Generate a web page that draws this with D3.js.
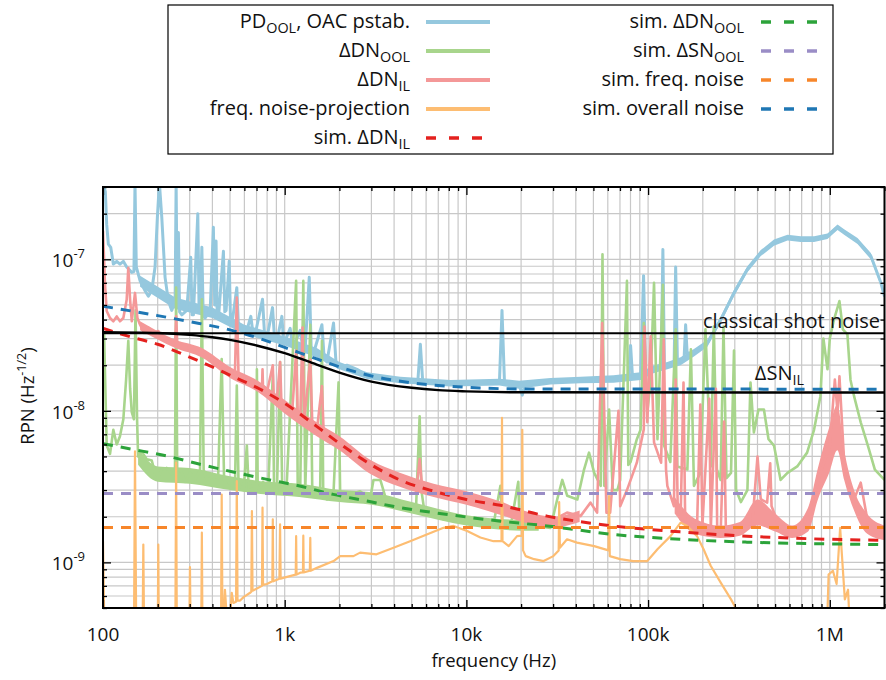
<!DOCTYPE html>
<html><head><meta charset="utf-8">
<script src="https://cdn.jsdelivr.net/npm/d3@7"></script>
<style>
body{margin:0;background:#fff}
svg{display:block}
text{font-family:'Open Sans',sans-serif;fill:#111}
</style></head>
<body><svg id="c" width="886" height="680"></svg>
<script>
// ---------------- DATA ----------------
const freqTicks = [100, 1e3, 1e4, 1e5, 1e6];
const freqTickLabels = ["100", "1k", "10k", "100k", "1M"];
const rpnTicks = [1e-9, 1e-8, 1e-7];
const rpnTickExponents = ["-9", "-8", "-7"];

const classicalShotNoise = 3.25e-8;
const simSNOOLLevel = 2.85e-9;
const simFreqNoiseLevel = 1.7e-9;

const snIL = [[100,3.3e-8],[200,3.26e-8],[300,3.17e-8],[400,3.06e-8],[500,2.94e-8],[700,2.7e-8],[1000,2.4e-8],[1500,2.02e-8],[2000,1.79e-8],[3000,1.56e-8],[5000,1.42e-8],[7000,1.37e-8],[10000,1.345e-8],[20000,1.325e-8],[2e6,1.32e-8]];

const simOverall = [[100,4.9e-8],[200,4.25e-8],[300,3.88e-8],[500,3.42e-8],[700,3.05e-8],[1000,2.62e-8],[1500,2.2e-8],[2000,1.95e-8],[3000,1.7e-8],[5000,1.53e-8],[10000,1.43e-8],[20000,1.395e-8],[2e6,1.39e-8]];

const simDNIL = [[100,3.5e-8],[146,3.05e-8],[200,2.75e-8],[276,2.36e-8],[388,1.98e-8],[520,1.68e-8],[700,1.43e-8],[1000,1.12e-8],[1500,7.9e-9],[2000,6.1e-9],[3000,4.4e-9],[4300,3.5e-9],[6600,2.95e-9],[10000,2.6e-9],[15400,2.38e-9],[27800,2.02e-9],[64000,1.74e-9],[150000,1.59e-9],[350000,1.49e-9],[810000,1.43e-9],[2e6,1.4e-9]];

const simDNOOL = [[100,6.07e-9],[146,5.57e-9],[225,5.03e-9],[342,4.44e-9],[520,3.95e-9],[800,3.53e-9],[1210,3.19e-9],[1850,2.81e-9],[2840,2.54e-9],[4300,2.3e-9],[6600,2.13e-9],[10100,1.99e-9],[15400,1.87e-9],[27800,1.74e-9],[64000,1.53e-9],[150000,1.42e-9],[350000,1.36e-9],[810000,1.33e-9],[2e6,1.31e-9]];

const pdOOL = [[100,3.2e-7],[103,2.8e-7],[104.8,1.7e-7],[107,1.26e-7],[110.3,1.2e-7],[114,9.3e-8],[119,9.7e-8],[124,9.3e-8],[129.4,9.7e-8],[135,8.9e-8],[144,8.2e-8],[148,8.3e-8],[150,3.2e-7],[152.5,8.9e-8],[160,7.2e-8],[170.4,6.2e-8],[177.7,5.7e-8],[185.5,6.2e-8],[193.4,8.9e-8],[199.2,1.9e-7],[204.3,3.2e-7],[210.6,1.9e-7],[219.6,7.6e-8],[229,5.3e-8],[239,4.6e-8],[249.4,5.3e-8],[252.6,3.2e-7],[256,5.0e-8],[260,1.5e-7],[264,4.5e-8],[271.5,4.3e-8],[289,4.6e-8],[304,1.03e-7],[309,4.3e-8],[314.5,4.3e-8],[332.5,2.0e-7],[338,4.5e-8],[342,4.6e-8],[350,1.2e-7],[356,4.2e-8],[365,4.1e-8],[389,4.6e-8],[405,1.63e-7],[412,5.0e-8],[419,1.32e-7],[425,4.2e-8],[432,4.1e-8],[460,1.13e-7],[468,4.5e-8],[476,4.6e-8],[495,9.7e-8],[503,4.0e-8],[512,3.7e-8],[545,6.5e-8],[556,3.7e-8],[569,3.5e-8],[619,3.4e-8],[651,4.2e-8],[668,3.3e-8],[688,3.2e-8],[755,5.45e-8],[775,3.15e-8],[798,3.0e-8],[857,4.8e-8],[880,2.95e-8],[906,2.9e-8],[965,4.2e-8],[985,2.9e-8],[1006,2.9e-8],[1072,3.5e-8],[1100,2.8e-8],[1132,2.75e-8],[1217,3.4e-8],[1255,2.65e-8],[1297,2.6e-8],[1365,7.6e-8],[1400,2.5e-8],[1441,2.4e-8],[1603,3.7e-8],[1650,2.2e-8],[1708,2.1e-8],[1857,3.8e-8],[1920,2.0e-8],[1979,1.93e-8],[2200,2.0e-8],[2500,1.88e-8],[2840,1.7e-8],[3360,1.62e-8],[4330,1.6e-8],[5400,1.55e-8],[5580,2.75e-8],[5750,1.55e-8],[6340,1.54e-8],[8160,1.52e-8],[10000,1.52e-8],[11900,1.54e-8],[15200,1.55e-8],[15700,4.6e-8],[16200,1.55e-8],[19500,1.5e-8],[20300,1.27e-8],[21000,1.5e-8],[29000,1.57e-8],[42500,1.6e-8],[64600,1.62e-8],[78000,1.7e-8],[80100,2.7e-8],[82000,1.7e-8],[91000,1.7e-8],[94400,7.8e-8],[97000,1.72e-8],[107000,1.88e-8],[118000,1.95e-8],[120600,1.16e-7],[123000,1.95e-8],[127600,1.98e-8],[139000,2.0e-8],[141800,8.9e-8],[145000,2.1e-8],[151000,2.13e-8],[158000,2.3e-8],[160900,3.7e-8],[164000,2.4e-8],[178800,2.42e-8],[212000,2.8e-8],[251000,4.0e-8],[297000,6.0e-8],[352000,8.6e-8],[417000,1.1e-7],[493000,1.29e-7],[585000,1.39e-7],[692000,1.36e-7],[819000,1.36e-7],[971000,1.42e-7],[1103000,1.63e-7],[1199000,1.51e-7],[1421000,1.32e-7],[1682000,1.05e-7],[1910000,7.0e-8],[2000000,5.7e-8]];

// noise envelope of the PD_OOL trace: [freq, low, high]
const pdOOLBand = [[160,6.6e-8,7.8e-8],[250,4.7e-8,5.6e-8],[400,4.1e-8,4.8e-8],[600,3.2e-8,3.7e-8],[1000,2.7e-8,3.1e-8],[1500,2.25e-8,2.6e-8],[2000,1.88e-8,2.1e-8],[2840,1.62e-8,1.8e-8],[4330,1.52e-8,1.68e-8],[8160,1.45e-8,1.6e-8],[15200,1.47e-8,1.63e-8],[19500,1.4e-8,1.58e-8],[29000,1.49e-8,1.65e-8],[42500,1.52e-8,1.68e-8],[64600,1.53e-8,1.72e-8],[91000,1.6e-8,1.8e-8],[107000,1.77e-8,1.99e-8],[127600,1.88e-8,2.1e-8],[151000,2.0e-8,2.26e-8],[178800,2.28e-8,2.56e-8],[212000,2.65e-8,2.95e-8],[251000,3.8e-8,4.2e-8],[297000,5.7e-8,6.3e-8],[352000,8.2e-8,9.0e-8],[417000,1.05e-7,1.15e-7],[493000,1.23e-7,1.35e-7],[585000,1.33e-7,1.45e-7],[692000,1.3e-7,1.42e-7],[819000,1.3e-7,1.42e-7],[971000,1.36e-7,1.48e-7],[1103000,1.56e-7,1.7e-7],[1199000,1.45e-7,1.58e-7],[1421000,1.26e-7,1.38e-7],[1682000,1.0e-7,1.1e-7],[1910000,6.7e-8,7.3e-8],[2000000,5.45e-8,6.0e-8]];

const dnOOL = [[100,3.3e-8],[101.3,3.3e-8],[104.8,5.9e-9],[109.3,5.2e-9],[114,7.5e-9],[119,6.0e-9],[124,6.8e-9],[129.4,8.8e-9],[134,1.6e-8],[137.8,2.9e-8],[141,1.4e-8],[144,9.8e-9],[148,8.8e-9],[151,4.6e-8],[154,8.8e-9],[156,5.0e-9],[163,5.4e-9],[174,4.8e-9],[185.5,4.7e-9],[193.4,3.9e-9],[201.5,3.7e-9],[210.6,4.1e-9],[224,4.2e-9],[239,3.8e-9],[249,4.1e-9],[252.6,6.5e-8],[256,4.1e-9],[265.8,4.1e-9],[283.3,3.4e-9],[301,3.9e-9],[321,3.5e-9],[342,4.1e-9],[350,5.45e-8],[358,4.1e-9],[372,3.5e-9],[405,3.7e-9],[430,3.6e-9],[450,2.2e-8],[464,3.5e-9],[480,3.5e-9],[512,3.2e-9],[533,3.3e-9],[545,1.47e-8],[557,3.3e-9],[594,3.0e-9],[619,5.9e-9],[633,3.1e-9],[660,3.2e-9],[698,3.2e-9],[703,1.88e-8],[710,3.15e-9],[733,3.0e-9],[760,3.4e-9],[811,3.0e-9],[860,1.74e-8],[874,3.0e-9],[906,2.9e-9],[943,2.1e-8],[970,2.9e-9],[1025,3.2e-9],[1156,7.2e-8],[1180,3.0e-9],[1217,3.0e-9],[1266,7.2e-8],[1297,3.0e-9],[1383,3.7e-8],[1418,3.0e-9],[1441,3.0e-9],[1566,2.75e-9],[1603,2.9e-8],[1630,2.7e-9],[1708,2.6e-9],[1857,2.9e-9],[1979,1.54e-8],[2020,2.8e-9],[2200,2.75e-9],[2600,2.95e-9],[2950,2.6e-9],[3080,3.5e-9],[3360,3.5e-9],[3650,2.5e-9],[4330,2.35e-9],[4900,2.25e-9],[5290,2.4e-9],[5530,9.2e-9],[5650,3.0e-9],[5820,2.35e-9],[6330,2.13e-9],[7480,1.92e-9],[9240,1.92e-9],[11400,1.83e-9],[14100,1.78e-9],[15390,3.2e-9],[15800,1.78e-9],[17460,1.69e-9],[19300,3.4e-9],[19650,1.74e-9],[24300,1.74e-9],[29000,1.69e-9],[31600,2.6e-9],[33700,3.5e-9],[35900,2.75e-9],[40800,2.6e-9],[44400,4.1e-9],[47300,5.3e-9],[50500,3.9e-9],[54900,3.2e-9],[56100,1.08e-7],[57400,3.2e-9],[61000,1.02e-8],[63900,3.0e-9],[67800,3.0e-9],[70200,3.5e-9],[76500,7.2e-8],[77800,4.4e-9],[80100,4.6e-9],[86700,6.5e-9],[90900,7.5e-9],[94700,3.8e-8],[99000,9.8e-9],[103300,1.6e-8],[107800,7.0e-8],[112600,6.5e-9],[120600,6.8e-8],[122500,5.9e-9],[132500,4.6e-9],[141800,3.45e-8],[144800,4.3e-9],[164500,4.1e-9],[172000,2.55e-8],[178800,3.2e-9],[193800,3.9e-9],[206800,3.45e-8],[221300,4.3e-9],[230000,3.6e-8],[239000,4.1e-9],[250800,3.5e-9],[260000,3.6e-8],[270000,3.6e-9],[286000,3.9e-9],[297000,2.5e-8],[305000,3.0e-9],[324000,2.5e-9],[352000,3.0e-9],[366000,1.54e-8],[382000,7.2e-9],[405000,1.02e-8],[434000,1.02e-8],[460000,6.5e-9],[493000,5.9e-9],[536000,3.5e-9],[585000,3.9e-9],[662000,4.3e-9],[750000,5.3e-9],[819000,7.5e-9],[888000,1.25e-8],[922000,3.0e-8],[971000,1.88e-8],[1000000,3.0e-8],[1054000,4.0e-8],[1130000,5.3e-8],[1180000,3.45e-8],[1250000,3.2e-8],[1300000,1.6e-8],[1360000,1.25e-8],[1480000,8.4e-9],[1620000,5.9e-9],[1770000,4.1e-9],[2000000,3.5e-9]];

// noise envelope of the ΔDN_OOL trace: [freq, low, high]
const dnOOLBand = [[156,4.4e-9,5.6e-9],[200,3.4e-9,4.3e-9],[300,3.3e-9,4.2e-9],[500,3.0e-9,3.7e-9],[800,2.8e-9,3.4e-9],[1200,2.7e-9,3.3e-9],[2000,2.5e-9,3.0e-9],[3000,2.4e-9,2.9e-9],[5000,2.1e-9,2.5e-9],[10000,1.75e-9,2.05e-9],[20000,1.62e-9,1.9e-9],[25000,1.62e-9,1.88e-9]];

const dnIL = [[100,1.54e-7],[102.6,6.8e-8],[104.8,4.56e-8],[109.3,4.1e-8],[114,3.9e-8],[119,4.2e-8],[124,3.9e-8],[129.4,4.1e-8],[135,5.4e-8],[137.8,8.8e-8],[141,5.4e-8],[144,3.9e-8],[150,6.0e-8],[154.6,4.1e-8],[160,3.7e-8],[166.7,3.36e-8],[177.7,3.54e-8],[189,3.28e-8],[201.5,3.36e-8],[214.8,3.04e-8],[233.8,2.82e-8],[249.4,2.75e-8],[252.6,4.2e-8],[256.6,2.7e-8],[265.8,2.61e-8],[289,2.61e-8],[314.5,2.48e-8],[342,2.42e-8],[372,2.24e-8],[405,2.13e-8],[441,1.98e-8],[480,1.88e-8],[532,1.74e-8],[545,5.6e-8],[557,1.69e-8],[619,1.61e-8],[673,1.5e-8],[750,1.41e-8],[755,1.88e-8],[760,1.4e-8],[798,1.32e-8],[860,2.0e-8],[870,1.25e-8],[906,1.19e-8],[943,2.1e-8],[960,1.1e-8],[981,1.08e-8],[1100,9.8e-9],[1156,2.5e-8],[1180,9.3e-9],[1217,8.8e-9],[1254,3.54e-8],[1280,8.7e-9],[1383,2.18e-8],[1420,7.9e-9],[1505,7.55e-9],[1603,1.46e-8],[1640,7.0e-9],[1857,6.2e-9],[2294,5.0e-9],[2838,4.3e-9],[3500,3.9e-9],[4330,3.53e-9],[5350,3.27e-9],[5530,4.8e-9],[5700,3.2e-9],[6610,3.03e-9],[8170,2.8e-9],[10100,2.67e-9],[12480,2.41e-9],[15390,2.3e-9],[17460,2.13e-9],[21550,1.97e-9],[26600,1.92e-9],[30230,1.83e-9],[32900,2.02e-9],[35800,2.13e-9],[42460,2.02e-9],[48200,2.48e-9],[52400,2.13e-9],[55900,3.8e-8],[59000,2.13e-9],[61800,2.13e-9],[68700,1.0e-8],[70200,2.35e-9],[76500,3.0e-9],[86700,4.55e-9],[94700,7.55e-9],[95600,3.6e-8],[99000,8.4e-9],[103300,3.1e-8],[107800,6.2e-9],[117900,4.55e-9],[122000,2.96e-8],[125500,4.1e-9],[127600,3.2e-9],[138700,2.35e-9],[141800,1.61e-8],[145500,2.3e-9],[151000,1.92e-9],[156600,1.54e-8],[160000,1.85e-9],[186000,1.74e-9],[193800,1.1e-8],[199000,1.75e-9],[217000,1.2e-8],[221300,1.65e-9],[236000,1.4e-8],[240000,1.65e-9],[250800,1.57e-9],[262000,8.5e-9],[268000,1.6e-9],[305000,1.65e-9],[375000,1.83e-9],[400000,5e-9],[416800,2.61e-9],[452000,2.48e-9],[470000,4.5e-9],[478000,2.35e-9],[520000,1.8e-9],[585000,1.57e-9],[692000,1.57e-9],[785000,2.35e-9],[892000,3.9e-9],[1000000,5.9e-9],[1066000,1.61e-8],[1103000,9.8e-9],[1130000,1.69e-8],[1200000,4.55e-9],[1360000,2.61e-9],[1480000,3.36e-9],[1620000,1.83e-9],[1840000,1.65e-9],[2000000,1.57e-9]];

// noise envelope of the ΔDN_IL trace: [freq, low, high]
const dnILBandA = [[160,3.4e-8,3.9e-8],[250,2.6e-8,2.95e-8],[350,2.25e-8,2.6e-8],[500,1.65e-8,1.95e-8],[700,1.35e-8,1.6e-8],[1000,9.6e-9,1.18e-8],[1500,6.8e-9,8.4e-9],[2000,5.5e-9,6.8e-9],[3000,3.8e-9,4.7e-9],[4300,3.15e-9,3.9e-9],[6600,2.7e-9,3.3e-9],[10000,2.4e-9,2.95e-9],[15000,2.08e-9,2.55e-9],[22000,1.8e-9,2.15e-9],[30000,1.7e-9,2.0e-9],[42000,1.85e-9,2.2e-9]];
const dnILBandB = [[140000,2.1e-9,2.7e-9],[180000,1.55e-9,1.95e-9],[250000,1.45e-9,1.75e-9],[320000,1.5e-9,1.85e-9],[400000,1.75e-9,2.6e-9],[500000,1.6e-9,2.1e-9],[620000,1.45e-9,1.75e-9],[760000,1.6e-9,2.3e-9],[860000,2.6e-9,4.2e-9],[1000000,4.0e-9,8.0e-9],[1100000,5.5e-9,1.1e-8],[1200000,3.5e-9,5.5e-9],[1360000,2.2e-9,3.0e-9],[1600000,1.55e-9,2.1e-9],[2000000,1.4e-9,1.75e-9]];

const freqProj = [[100,1.38e-9],[102,3e-10],[148,3e-10],[150,5.4e-9],[152.5,3e-10],[165,3e-10],[166.7,1.31e-9],[168.5,3e-10],[200,3e-10],[201.5,1.31e-9],[203,3e-10],[250,3e-10],[252.6,4.55e-9],[255,3e-10],[298,3e-10],[301,9.3e-10],[304,3e-10],[347,3e-10],[350,1.57e-9],[353,3e-10],[446,3e-10],[450,2.8e-9],[455,3e-10],[469,6.6e-10],[490,3e-10],[511,6.3e-10],[522,5.4e-10],[540,5.5e-10],[545,3.44e-9],[550,5.6e-10],[568,5.6e-10],[594,5.9e-10],[645,6.3e-10],[655,6.4e-10],[660,2.18e-9],[665,6.5e-10],[750,7.0e-10],[755,2.3e-9],[760,7.1e-10],[798,7.2e-10],[855,7.5e-10],[860,1.92e-9],[865,7.5e-10],[935,7.8e-10],[943,1.78e-9],[950,7.8e-10],[981,7.9e-10],[1150,8.3e-10],[1156,1.49e-9],[1162,8.3e-10],[1217,8.55e-10],[1260,8.6e-10],[1266,1.5e-9],[1272,8.6e-10],[1375,8.8e-10],[1383,1.45e-9],[1390,8.8e-10],[1505,9.2e-10],[1857,1.02e-9],[2020,1.1e-9],[2390,1.1e-9],[2600,1.16e-9],[3200,1.13e-9],[3970,1.25e-9],[4900,1.38e-9],[6050,1.53e-9],[7480,1.69e-9],[8500,1.74e-9],[10100,1.61e-9],[11940,1.46e-9],[14100,1.38e-9],[15600,1.38e-9],[15700,9.0e-9],[15800,1.38e-9],[17100,1.28e-9],[19000,1.49e-9],[20200,1.5e-9],[20300,7.5e-9],[20500,1.2e-9],[21200,1.1e-9],[23600,1.05e-9],[26600,1.02e-9],[30100,1.1e-9],[32200,1.2e-9],[32400,2.5e-9],[32700,1.25e-9],[35800,1.42e-9],[40600,1.35e-9],[50500,1.28e-9],[60500,1.2e-9],[61000,2.74e-9],[61500,1.1e-9],[70200,1.05e-9],[82800,1.02e-9],[99000,1.02e-9],[112600,1.22e-9],[132800,1.49e-9],[151000,1.83e-9],[164000,1.74e-9],[186000,1.49e-9],[202000,1.22e-9],[221000,9.5e-10],[251000,7.35e-10],[286000,5.7e-10],[312000,4.7e-10],[345000,3e-10],[960000,3e-10],[985000,8.3e-10],[1040000,8.8e-10],[1090000,7.2e-10],[1140000,1.69e-9],[1170000,1.05e-9],[1210000,5.7e-10],[1260000,6.6e-10],[1300000,3e-10],[2000000,3e-10]];

// ---------------- CHART ----------------
const W = 886, H = 680;
const M = {l: 103, r: 1.5, t: 187, b: 72};
const svg = d3.select('#c');
const x = d3.scaleLog().domain([100, 2e6]).range([M.l, W - M.r]);
const y = d3.scaleLog().domain([5e-10, 3e-7]).range([H - M.b, M.t]);
const x0 = M.l, x1 = W - M.r, y0 = H - M.b, y1 = M.t;

const col = {
  blue: '#95c8de', green: '#a8d58c', red: '#f49898', orange: '#fdbd72',
  dRed: '#e4211e', dGreen: '#2ca33a', dPurple: '#9a8dc6', dOrange: '#f7862a', dBlue: '#1f77b4'
};

const xMinor = [], yMinor = [];
for (let e = 2; e <= 6; e++) for (let m = 2; m <= 9; m++) { const v = m * Math.pow(10, e); if (v <= 2e6 + 1) xMinor.push(v); }
for (let e = -10; e <= -7; e++) for (let m = 2; m <= 9; m++) { const v = m * Math.pow(10, e); if (v >= 4.99e-10 && v <= 3.01e-7) yMinor.push(v); }

// grid
const grid = svg.append('g').attr('stroke', '#c8c8c8').attr('stroke-width', 1.2);
grid.selectAll('line.gx').data(xMinor.concat(freqTicks)).join('line')
  .attr('x1', d => x(d)).attr('x2', d => x(d)).attr('y1', y0).attr('y2', y1);
grid.selectAll('line.gy').data(yMinor.concat(rpnTicks)).join('line').attr('class','gy')
  .attr('y1', d => y(d)).attr('y2', d => y(d)).attr('x1', x0).attr('x2', x1);

const defs = svg.append('defs');
defs.append('clipPath').attr('id', 'clip').append('rect')
  .attr('x', x0).attr('y', y1).attr('width', x1 - x0).attr('height', y0 - y1);

const plot = svg.append('g').attr('clip-path', 'url(#clip)');
const line = d3.line().x(d => x(d[0])).y(d => y(d[1]));
const smooth = d3.line().x(d => x(d[0])).y(d => y(d[1])).curve(d3.curveMonotoneX);
const band = d3.area().x(d => x(d[0])).y0(d => y(d[1])).y1(d => y(d[2])).curve(d3.curveMonotoneX);
const bandLin = d3.area().x(d => x(d[0])).y0(d => y(d[1])).y1(d => y(d[2]));

function trace(data, color, w) {
  plot.append('path').datum(data).attr('d', line).attr('fill', 'none')
    .attr('stroke', color).attr('stroke-width', w).attr('stroke-linejoin', 'round');
}
plot.append('path').datum(pdOOLBand).attr('d', bandLin).attr('fill', col.blue);
trace(pdOOL, col.blue, 3);
plot.append('path').datum(dnOOLBand).attr('d', band).attr('fill', col.green);
trace(dnOOL, col.green, 2.6);
plot.append('path').datum(dnILBandA).attr('d', band).attr('fill', col.red);
plot.append('path').datum(dnILBandB).attr('d', band).attr('fill', col.red);
trace(dnIL, col.red, 2.6);
trace(freqProj, col.orange, 2.2);

function dashed(data, color) {
  plot.append('path').datum(data).attr('d', smooth).attr('fill', 'none')
    .attr('stroke', color).attr('stroke-width', 3).attr('stroke-dasharray', '10,8');
}
dashed(simDNIL, col.dRed);
dashed(simDNOOL, col.dGreen);
dashed([[100, simSNOOLLevel], [2e6, simSNOOLLevel]], col.dPurple);
dashed([[100, simFreqNoiseLevel], [2e6, simFreqNoiseLevel]], col.dOrange);
dashed(simOverall, col.dBlue);

plot.append('path').datum([[100, classicalShotNoise], [2e6, classicalShotNoise]]).attr('d', line)
  .attr('fill', 'none').attr('stroke', '#000').attr('stroke-width', 2.2);
plot.append('path').datum(snIL).attr('d', smooth)
  .attr('fill', 'none').attr('stroke', '#000').attr('stroke-width', 2.4);

// axes (inward ticks on all sides)
function axis(gen, tr, vals, size) {
  const g = svg.append('g').attr('transform', tr)
    .call(gen.tickValues(vals).tickSizeInner(size).tickSizeOuter(0).tickFormat(''));
  g.select('.domain').remove();
  g.selectAll('line').attr('stroke', '#000').attr('stroke-width', 1.3);
}
axis(d3.axisBottom(x), `translate(0,${y0})`, freqTicks, -8);
axis(d3.axisBottom(x), `translate(0,${y0})`, xMinor, -4);
axis(d3.axisTop(x), `translate(0,${y1})`, freqTicks, -8);
axis(d3.axisTop(x), `translate(0,${y1})`, xMinor, -4);
axis(d3.axisLeft(y), `translate(${x0},0)`, rpnTicks, -8);
axis(d3.axisLeft(y), `translate(${x0},0)`, yMinor, -4);
axis(d3.axisRight(y), `translate(${x1},0)`, rpnTicks, -8);
axis(d3.axisRight(y), `translate(${x1},0)`, yMinor, -4);

svg.append('rect').attr('x', x0).attr('y', y1).attr('width', x1 - x0).attr('height', y0 - y1)
  .attr('fill', 'none').attr('stroke', '#000').attr('stroke-width', 2);

// tick labels
svg.append('g').selectAll('text').data(freqTicks).join('text')
  .attr('x', d => x(d)).attr('y', 641).attr('text-anchor', 'middle').attr('font-size', 19)
  .text((d, i) => freqTickLabels[i]);
const yl = svg.append('g').selectAll('text').data(rpnTicks).join('text')
  .attr('x', 85).attr('y', d => y(d) + 8).attr('text-anchor', 'end').attr('font-size', 19);
yl.append('tspan').text('10');
yl.append('tspan').attr('font-size', 13).attr('dy', -9).text((d, i) => rpnTickExponents[i]);

// axis titles
svg.append('text').attr('x', (x0 + x1) / 2).attr('y', 667).attr('text-anchor', 'middle')
  .attr('font-size', 18.5).text('frequency (Hz)');
const yt = svg.append('text').attr('transform', 'translate(34,396) rotate(-90)')
  .attr('text-anchor', 'middle').attr('font-size', 18.5);
yt.append('tspan').text('RPN (Hz');
yt.append('tspan').attr('font-size', 12.5).attr('dy', -8).text('-1/2');
yt.append('tspan').attr('dy', 8).text(')');

// rich text helper: parts = [[text, 'n'|'sub']]
function rich(sel, parts, fs) {
  let off = 0;
  parts.forEach(([t, m]) => {
    const ts = sel.append('tspan').text(t);
    const target = m === 'sub' ? 5 : 0;
    ts.attr('dy', target - off);
    off = target;
    if (m === 'sub') ts.attr('font-size', fs * 0.72);
  });
}

// annotations
svg.append('text').attr('x', 880).attr('y', 328).attr('text-anchor', 'end').attr('font-size', 20)
  .text('classical shot noise');
rich(svg.append('text').attr('x', 804).attr('y', 380).attr('text-anchor', 'end').attr('font-size', 20),
  [['ΔSN', 'n'], ['IL', 'sub']], 20);

// legend
svg.append('rect').attr('x', 168).attr('y', 5).attr('width', 665).attr('height', 149)
  .attr('fill', '#fff').attr('stroke', '#000').attr('stroke-width', 1.2);
const legLeft = [
  {parts: [['PD', 'n'], ['OOL', 'sub'], [', OAC pstab.', 'n']], c: col.blue, d: false},
  {parts: [['ΔDN', 'n'], ['OOL', 'sub']], c: col.green, d: false},
  {parts: [['ΔDN', 'n'], ['IL', 'sub']], c: col.red, d: false},
  {parts: [['freq. noise-projection', 'n']], c: col.orange, d: false},
  {parts: [['sim. ΔDN', 'n'], ['IL', 'sub']], c: col.dRed, d: true}
];
const legRight = [
  {parts: [['sim. ΔDN', 'n'], ['OOL', 'sub']], c: col.dGreen, d: true},
  {parts: [['sim. ΔSN', 'n'], ['OOL', 'sub']], c: col.dPurple, d: true},
  {parts: [['sim. freq. noise', 'n']], c: col.dOrange, d: true},
  {parts: [['sim. overall noise', 'n']], c: col.dBlue, d: true}
];
function legendCol(items, tx, lx0, lx1) {
  items.forEach((it, i) => {
    const cy = 22 + i * 29;
    rich(svg.append('text').attr('x', tx).attr('y', cy + 6).attr('text-anchor', 'end').attr('font-size', 20), it.parts, 20);
    svg.append('line').attr('x1', lx0).attr('x2', lx1).attr('y1', cy).attr('y2', cy)
      .attr('stroke', it.c).attr('stroke-width', it.d ? 3.5 : 4)
      .attr('stroke-dasharray', it.d ? '10,13' : null);
  });
}
legendCol(legLeft, 410, 426, 490);
legendCol(legRight, 744, 761, 825);
</script></body></html>
